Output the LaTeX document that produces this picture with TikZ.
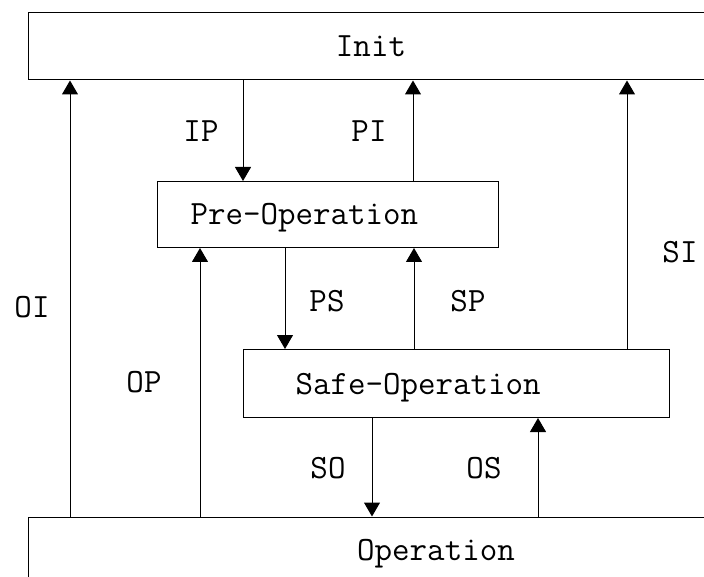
\documentclass[tikz,border=0pt]{standalone}
\usepackage{fontspec}
\usetikzlibrary{arrows.meta}

\begin{document}
\begin{tikzpicture}[x=1pt,y=-1pt,
    every node/.style={font=\fontsize{34}{40}\selectfont\ttfamily},
    state/.style={draw,line width=1pt,inner ysep=0pt,text height=21pt,text depth=0pt,minimum height=66pt},
    trans/.style={line width=1pt,-{Triangle[length=14pt,width=16pt]}},
    lbl/.style={anchor=base,inner sep=0pt}]
    \useasboundingbox (0,0) rectangle (704,577);
    \node[state,minimum width=686pt,minimum height=67pt] (init) at (371,46.5) {Init};
    \node[state,anchor=north west,inner xsep=33pt,text width=275pt,align=left] (pre) at (157,181) {Pre-Operation};
    \node[state,anchor=north west,inner xsep=52pt,text width=322pt,align=left,minimum height=68pt] (safe) at (243,349) {Safe-Operation};
    \node[state,minimum width=816pt] (oper) at (436,550) {Operation};
    \draw[trans] (init.south -| 243,0) -- (pre.north -| 243,0);
    \draw[trans] (pre.north -| 413,0) -- (init.south -| 413,0);
    \draw[trans] (safe.north -| 627,0) -- (init.south -| 627,0);
    \draw[trans] (oper.north -| 70,0) -- (init.south -| 70,0);
    \draw[trans] (oper.north -| 200,0) -- (pre.south -| 200,0);
    \draw[trans] (pre.south -| 285,0) -- (safe.north -| 285,0);
    \draw[trans] (safe.north -| 414,0) -- (pre.south -| 414,0);
    \draw[trans] (safe.south -| 372,0) -- (oper.north -| 372,0);
    \draw[trans] (oper.north -| 538,0) -- (safe.south -| 538,0);
    \node[lbl] (ip) at (201,142) {IP};
    \node[lbl] (pi) at (369,142) {PI};
    \node[lbl] (si) at (680,263) {SI};
    \node[lbl] (oi) at (32,317) {OI};
    \node[lbl] (ps) at (327,312) {PS};
    \node[lbl] (sp) at (468,312) {SP};
    \node[lbl] (op) at (144,392) {OP};
    \node[lbl] (so) at (328,478) {SO};
    \node[lbl] (os) at (484,478) {OS};
\end{tikzpicture}
\end{document}
